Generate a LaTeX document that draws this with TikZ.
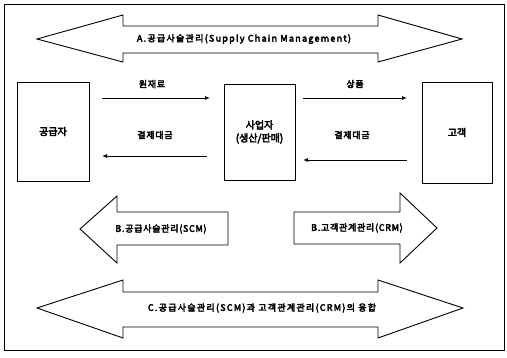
\documentclass[tikz,border=0pt]{standalone}
\usepackage{fontspec}
\setmainfont[FakeBold=4]{Noto Sans CJK KR}
\newfontfamily\widefont[FakeBold=4,LetterSpace=8]{Noto Sans CJK KR}
\newfontfamily\widerfont[FakeBold=4,LetterSpace=14]{Noto Sans CJK KR}
\usetikzlibrary{arrows.meta}
\tikzset{
  outline/.style={draw=black, line width=0.9pt, line join=miter},
  boxnode/.style={draw=black, line width=1pt, minimum width=72pt, minimum height=99pt, inner sep=0pt, font=\fontsize{10}{13}\selectfont},
  lbl/.style={font=\widefont\fontsize{9}{10}\selectfont, inner sep=1pt},
  widelbl/.style={font=\widerfont\fontsize{9}{10}\selectfont, inner sep=1pt},
  flow/.style={draw=black, line width=0.9pt, -{Latex[length=5pt,width=4pt]}},
}
\begin{document}
\begin{tikzpicture}[x=1pt,y=-1pt]
\useasboundingbox (0,0) rectangle (507,357);
\draw[line width=1pt] (4,4) rectangle (504,350);

% A arrow
\draw[outline] (37,39) -- (123,15) -- (123,26) -- (378,26) -- (378,15) -- (462,39) -- (378,62) -- (378,53) -- (123,53) -- (123,62) -- cycle;
\node[widelbl] (la) at (244,39) {A.공급사슬관리(Supply Chain Management)};

% boxes
\node[boxnode] (sup) at (53,131.5) {공급자};
\node[boxnode, minimum width=71pt, minimum height=96pt, align=center] (biz) at (259.5,132) {사업자\\(생산/판매)};
\node[boxnode, minimum width=70pt, minimum height=101pt] (cus) at (457,132.5) {고객};

% flows
\coordinate (r1s) at (102,98); \coordinate (r1e) at (210,98);
\coordinate (r2s) at (303,98); \coordinate (r2e) at (407,98);
\coordinate (p1s) at (207,156); \coordinate (p1e) at (102,156);
\coordinate (p2s) at (407,160); \coordinate (p2e) at (303,160);
\draw[flow] (r1s) -- (r1e);
\draw[flow] (r2s) -- (r2e);
\draw[flow] (p1s) -- (p1e);
\draw[flow] (p2s) -- (p2e);
\node[lbl] (t1) at (152,84) {원재료};
\node[lbl] (t2) at (355,84) {상품};
\node[lbl] (t3) at (155,135) {결제대금};
\node[lbl] (t4) at (352,135) {결제대금};

% B arrows
\draw[outline] (80,229) -- (117,196) -- (117,212) -- (228,212) -- (228,245) -- (117,245) -- (117,263) -- cycle;
\node[lbl] (lb1) at (161,229) {B.공급사슬관리(SCM)};
\draw[outline] (294,212) -- (400,212) -- (400,193) -- (437,228) -- (400,263) -- (400,244) -- (294,244) -- cycle;
\node[lbl] (lb2) at (357,228) {B.고객관계관리(CRM)};

% C arrow
\draw[outline] (37,308) -- (123,280) -- (123,292) -- (378,292) -- (378,280) -- (463,308) -- (378,338) -- (378,327) -- (123,327) -- (123,338) -- cycle;
\node[widelbl] (lc) at (262,308) {C.공급사슬관리(SCM)과 고객관계관리(CRM)의 융합};
\end{tikzpicture}
\end{document}
